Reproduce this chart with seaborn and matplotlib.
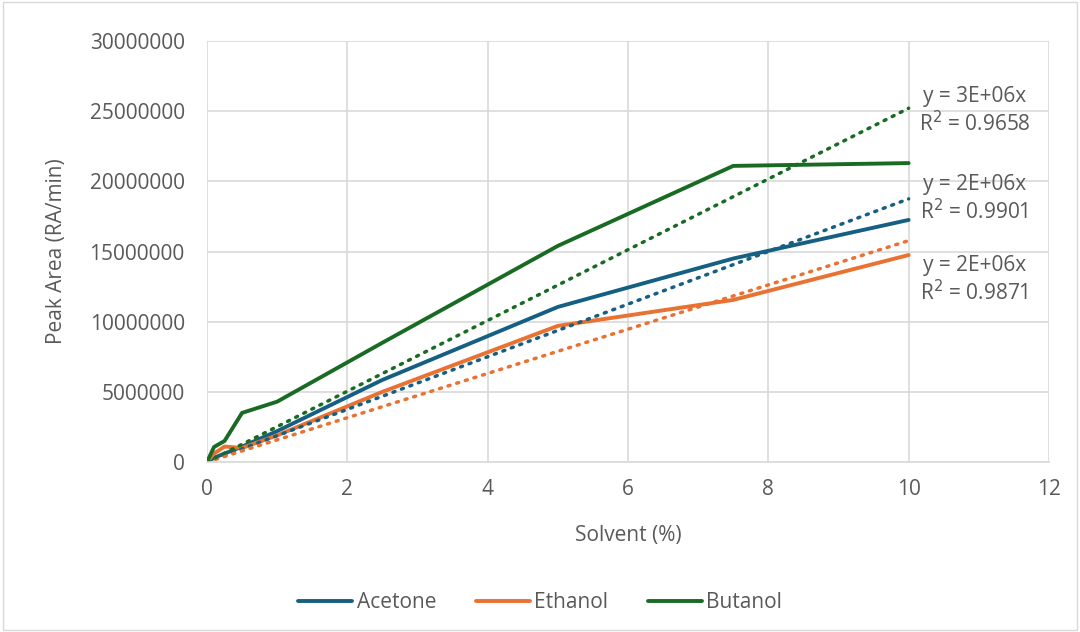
import numpy as np
import pandas as pd
import matplotlib
matplotlib.use("Agg")
import matplotlib.pyplot as plt
import seaborn as sns

solvent = [0, 0.1, 0.25, 0.5, 1, 2.5, 5, 7.5, 10]
acetone = [0, 300000, 600000, 1100000, 2200000, 5850000, 11050000, 14500000, 17250000]
ethanol = [0, 600000, 1100000, 1000000, 1900000, 5000000, 9700000, 11550000, 14750000]
butanol = [0, 1070000, 1500000, 3500000, 4300000, 8500000, 15400000, 21100000, 21300000]
series_names = ["Acetone", "Ethanol", "Butanol"]
colors = ["#156082", "#E97132", "#196B24"]

sns.set_theme(style="white")
plt.rcParams['font.family'] = ['Open Sans', 'DejaVu Sans']
text_color = "#595959"
fs = 15

df = pd.DataFrame({"Solvent": solvent * 3,
                   "Peak": acetone + ethanol + butanol,
                   "Series": sum([[n] * len(solvent) for n in series_names], [])})

fig = plt.figure(figsize=(10.8, 6.32), dpi=100)
ax = fig.add_axes([207/1080, 1 - 462/632, (1049-207)/1080, (462-41)/632])

sns.lineplot(data=df, x="Solvent", y="Peak", hue="Series", palette=colors,
             linewidth=2.8, ax=ax, legend=True, estimator=None, sort=False)

x = np.array(solvent, float)
for name, vals, c in zip(series_names, [acetone, ethanol, butanol], colors):
    y = np.array(vals, float)
    slope = (x * y).sum() / (x * x).sum()
    tx = np.array([0, 10.0])
    sns.lineplot(x=tx, y=slope * tx, color=c, linewidth=2.5, linestyle=(0, (0.6, 2.0)),
                 ax=ax, legend=False, dash_capstyle='round')

ax.set_xlim(0, 12)
ax.set_ylim(0, 30000000)
ax.set_xticks(range(0, 13, 2))
ax.set_yticks(range(0, 30000001, 5000000))
ax.set_yticklabels([str(v) for v in range(0, 30000001, 5000000)])
ax.grid(True, color="#D9D9D9", linewidth=1.2)
ax.set_axisbelow(True)
for s in ["top", "right", "left"]:
    ax.spines[s].set_visible(False)
ax.spines["bottom"].set_color("#D9D9D9")
ax.spines["bottom"].set_linewidth(1.2)
ax.tick_params(axis="y", colors=text_color, labelsize=fs, length=0, pad=16)
ax.tick_params(axis="x", colors=text_color, labelsize=fs, length=0, pad=12)
ax.set_xlabel("Solvent (%)", fontsize=fs, color=text_color, labelpad=18)
ax.set_ylabel("Peak Area (RA/min)", fontsize=fs, color=text_color, labelpad=16)

labels = ["y = 2E+06x\nR$^2$ = 0.9901", "y = 2E+06x\nR$^2$ = 0.9871", "y = 3E+06x\nR$^2$ = 0.9658"]
label_pos = [(10.94, 18700000), (10.94, 12970000), (10.94, 25000000)]
for lab, (lx, ly) in zip(labels, label_pos):
    ax.text(lx, ly, lab, fontsize=fs, color=text_color, ha="center", va="center",
            linespacing=1.2, clip_on=False)

handles, lbls = ax.get_legend_handles_labels()
ax.legend(handles, lbls, loc="center", bbox_to_anchor=(0.5, (632-603)/632),
          bbox_transform=fig.transFigure, ncol=3, frameon=False, fontsize=fs,
          labelcolor=text_color, handlelength=2.6, handletextpad=0.2, columnspacing=1.9)

fig.patches.append(plt.Rectangle((0.003, 0.003), 0.994, 0.994, transform=fig.transFigure,
                                 fill=False, edgecolor="#D9D9D9", linewidth=1))
fig.savefig("out.png", dpi=100)
